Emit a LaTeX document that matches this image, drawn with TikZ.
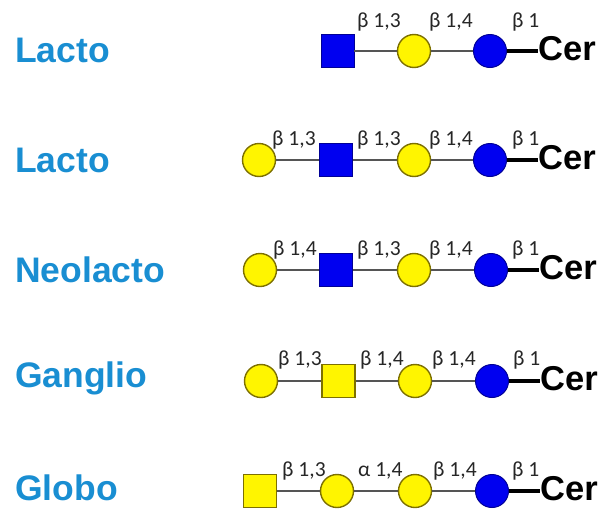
\documentclass[tikz,border=0pt]{standalone}
\usepackage{fontspec}
\setmainfont{Liberation Sans}
\newfontfamily\linkfont{Carlito}
\definecolor{seriesblue}{RGB}{25,142,210}
\definecolor{galyellow}{RGB}{255,245,0}
\definecolor{galedge}{RGB}{125,112,0}
\definecolor{glcblue}{RGB}{0,0,240}
\definecolor{glcedge}{RGB}{0,0,150}
\definecolor{bondgray}{RGB}{85,85,85}
\tikzset{
  series/.style={anchor=base west, inner sep=0pt, text=seriesblue,
    font=\fontsize{35.5}{40}\selectfont\bfseries},
  galcirc/.style={circle, minimum size=33pt, inner sep=0pt, fill=galyellow,
    draw=galedge, line width=1.4pt},
  glccirc/.style={circle, minimum size=33pt, inner sep=0pt, fill=glcblue,
    draw=glcedge, line width=1.0pt},
  glcnacsq/.style={rectangle, minimum size=33pt, inner sep=0pt, fill=glcblue,
    draw=glcedge, line width=0.8pt},
  galnacsq/.style={rectangle, minimum size=33pt, inner sep=0pt, fill=galyellow,
    draw=galedge, line width=1.4pt},
  cer/.style={anchor=west, inner sep=0pt, font=\fontsize{34.5}{40}\selectfont\bfseries},
  bond/.style={draw=bondgray, line width=1.5pt},
  cerbond/.style={draw=black, line width=3.2pt},
  link/.style={anchor=base west, inner sep=0pt, text=black!85,
    font=\linkfont\fontsize{21.5}{24}\selectfont},
}
\begin{document}
\begin{tikzpicture}[x=1pt,y=-1pt]
\useasboundingbox (0,0) rectangle (600,509);

% series names
\node[series] (s1) at (15,62)  {Lacto};
\node[series] (s2) at (15,172) {Lacto};
\node[series] (s3) at (15,282) {Neolacto};
\node[series] (s4) at (15,387) {Ganglio};
\node[series] (s5) at (15,500) {Globo};

% ---- row 1: GlcNAc-Gal-Glc-Cer
\node[glcnacsq] (a2) at (337.5,51) {};
\node[galcirc]  (a3) at (414,51) {};
\node[glccirc]  (a4) at (490,51) {};
\node[cer] (a5) at (538,49) {Cer};
\draw[bond] (a2) -- (a3);
\draw[bond] (a3) -- (a4);
\draw[cerbond] (a4.east) -- (a4.east -| a5.west);
\node[link] (la2) at (357,27) {β 1,3};
\node[link] (la3) at (429,27) {β 1,4};
\node[link] (la4) at (512,27) {β 1};

% ---- row 2: Gal-GlcNAc-Gal-Glc-Cer
\node[galcirc]  (b1) at (259,160) {};
\node[glcnacsq] (b2) at (336,160) {};
\node[galcirc]  (b3) at (414,160) {};
\node[glccirc]  (b4) at (490,160) {};
\node[cer] (b5) at (538,158) {Cer};
\draw[bond] (b1) -- (b2);
\draw[bond] (b2) -- (b3);
\draw[bond] (b3) -- (b4);
\draw[cerbond] (b4.east) -- (b4.east -| b5.west);
\node[link] (lb1) at (272,145) {β 1,3};
\node[link] (lb2) at (357,145) {β 1,3};
\node[link] (lb3) at (429,145) {β 1,4};
\node[link] (lb4) at (512,145) {β 1};

% ---- row 3: Gal-GlcNAc-Gal-Glc-Cer (neolacto)
\node[galcirc]  (c1) at (260,270) {};
\node[glcnacsq] (c2) at (336,270) {};
\node[galcirc]  (c3) at (414,270) {};
\node[glccirc]  (c4) at (491,270) {};
\node[cer] (c5) at (539,268) {Cer};
\draw[bond] (c1) -- (c2);
\draw[bond] (c2) -- (c3);
\draw[bond] (c3) -- (c4);
\draw[cerbond] (c4.east) -- (c4.east -| c5.west);
\node[link] (lc1) at (273,255) {β 1,4};
\node[link] (lc2) at (357,255) {β 1,3};
\node[link] (lc3) at (429,255) {β 1,4};
\node[link] (lc4) at (512,255) {β 1};

% ---- row 4: Gal-GalNAc-Gal-Glc-Cer
\node[galcirc]  (d1) at (261,381) {};
\node[galnacsq] (d2) at (338.5,381) {};
\node[galcirc]  (d3) at (415,381) {};
\node[glccirc]  (d4) at (492,381) {};
\node[cer] (d5) at (540,379) {Cer};
\draw[bond] (d1) -- (d2);
\draw[bond] (d2) -- (d3);
\draw[bond] (d3) -- (d4);
\draw[cerbond] (d4.east) -- (d4.east -| d5.west);
\node[link] (ld1) at (278,365) {β 1,3};
\node[link] (ld2) at (360,365) {β 1,4};
\node[link] (ld3) at (432,365) {β 1,4};
\node[link] (ld4) at (513,365) {β 1};

% ---- row 5: GalNAc-Gal-Gal-Glc-Cer
\node[galnacsq] (e1) at (260,491) {};
\node[galcirc]  (e2) at (337,491) {};
\node[galcirc]  (e3) at (415,491) {};
\node[glccirc]  (e4) at (492,491) {};
\node[cer] (e5) at (540,489) {Cer};
\draw[bond] (e1) -- (e2);
\draw[bond] (e2) -- (e3);
\draw[bond] (e3) -- (e4);
\draw[cerbond] (e4.east) -- (e4.east -| e5.west);
\node[link] (le1) at (282,476) {β 1,3};
\node[link] (le2) at (358,476) {α 1,4};
\node[link] (le3) at (433,476) {β 1,4};
\node[link] (le4) at (512,476) {β 1};
\end{tikzpicture}
\end{document}
